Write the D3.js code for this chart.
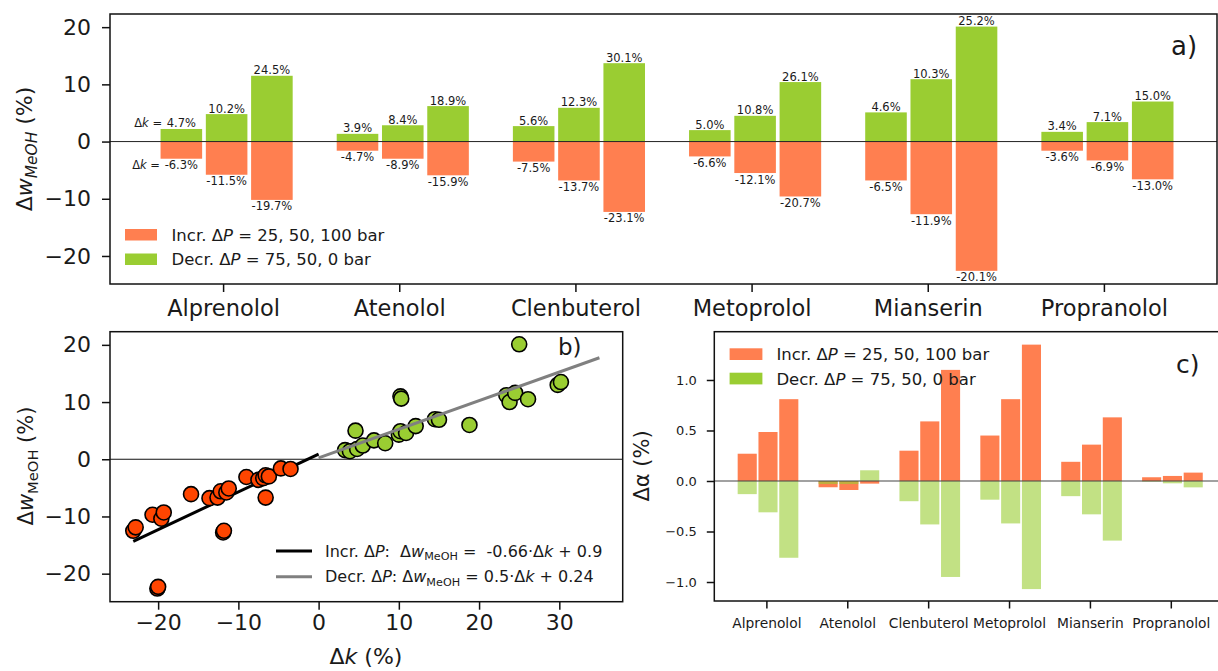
<!DOCTYPE html>
<html>
<head>
<meta charset="utf-8">
<script src="https://cdn.jsdelivr.net/npm/d3@7"></script>
<style>
  body { margin: 0; background: #fff; }
  svg text { font-family: "DejaVu Sans", sans-serif; fill: #1a1a1a; white-space: pre; }
</style>
</head>
<body>
<svg id="chart" width="1218" height="671"></svg>
<script>
// ---- data ----
const drugs = ['Alprenolol', 'Atenolol', 'Clenbuterol', 'Metoprolol', 'Mianserin', 'Propranolol'];

// panel a: change in MeOH fraction (%) for the three pressure steps
const incrW = [[-3.0, -5.8, -10.2], [-1.6, -3.0, -5.9], [-3.5, -6.8, -12.3], [-2.6, -5.5, -9.6], [-6.8, -12.7, -22.6], [-1.6, -3.3, -6.6]];
const decrW = [[2.2, 4.8, 11.5], [1.35, 2.85, 6.2], [2.7, 5.9, 13.7], [2.0, 4.5, 10.4], [5.1, 10.9, 20.1], [1.7, 3.4, 7.0]];
// Δk labels printed on the bars
const incrK = [[-6.3, -11.5, -19.7], [-4.7, -8.9, -15.9], [-7.5, -13.7, -23.1], [-6.6, -12.1, -20.7], [-6.5, -11.9, -20.1], [-3.6, -6.9, -13.0]];
const decrK = [[4.7, 10.2, 24.5], [3.9, 8.4, 18.9], [5.6, 12.3, 30.1], [5.0, 10.8, 26.1], [4.6, 10.3, 25.2], [3.4, 7.1, 15.0]];

// panel b: scatter points (Δk, Δw)
const scIncrK = [-23.1, -22.8, -20.7, -19.6, -19.3, -20.1, -20.0, -15.9, -13.6, -12.6, -12.2, -11.5, -11.2, -11.9, -11.8, -9.0, -7.5, -6.9, -6.6, -6.2, -6.6, -4.7, -3.5];
const scIncrW = [-12.5, -11.9, -9.7, -10.4, -9.3, -22.6, -22.3, -6.1, -6.8, -6.7, -5.6, -5.8, -5.1, -12.8, -12.5, -3.1, -3.6, -3.3, -2.8, -3.0, -6.7, -1.6, -1.7];
const scDecrK = [25.0, 10.2, 10.3, 4.6, 3.3, 3.9, 4.8, 5.5, 6.9, 8.3, 10.0, 10.2, 10.9, 12.1, 14.5, 15.0, 18.8, 23.4, 23.8, 24.5, 26.1, 29.8, 30.2];
const scDecrW = [20.1, 11.0, 10.6, 5.0, 1.6, 1.4, 1.8, 2.4, 3.3, 2.8, 4.3, 4.9, 4.6, 5.8, 7.0, 6.9, 6.0, 11.2, 10.0, 11.6, 10.5, 13.0, 13.5];
// fitted lines (end points)
const fitIncrK = [-23.1, 0];
const fitIncrW = [-14.35, 0.9];
const fitDecrK = [0, 35];
const fitDecrW = [0.24, 17.74];

// panel c: change in selectivity (%)
const incrA = [[0.27, 0.485, 0.81], [-0.062, -0.089, -0.026], [0.30, 0.59, 1.10], [0.45, 0.81, 1.35], [0.19, 0.36, 0.63], [0.037, 0.05, 0.083]];
const decrA = [[-0.13, -0.31, -0.76], [-0.03, -0.03, 0.106], [-0.20, -0.43, -0.95], [-0.185, -0.42, -1.07], [-0.15, -0.33, -0.59], [-0.006, -0.023, -0.063]];

const wTicks = [-20, -10, 0, 10, 20];
const kTicks = [-20, -10, 0, 10, 20, 30];
const aTicks = [-1.0, -0.5, 0.0, 0.5, 1.0];

const ORANGE = '#ff7f50', GREEN = '#9acd32', RED = '#ff4500';

const svg = d3.select('#chart');
const barStep = 0.257, barW = 0.236, barShift = 0.02;

function frame(x0, x1, y0, y1) {
  svg.append('rect').attr('x', x0).attr('y', y0).attr('width', x1 - x0).attr('height', y1 - y0)
    .attr('fill', 'none').attr('stroke', '#111').attr('stroke-width', 1.5);
}

function styleAxis(g, size) {
  g.select('.domain').remove();
  g.selectAll('.tick line').attr('stroke', '#111').attr('stroke-width', 1.5);
  g.selectAll('.tick text').attr('font-size', size).attr('fill', '#1a1a1a')
    .attr('font-family', '"DejaVu Sans", sans-serif');
}

// math-ish label: parts = [[text, italic, sub]]
function richText(sel, parts, size) {
  let sub = false;
  parts.forEach(p => {
    const t = sel.append('tspan').text(p[0]);
    if (p[1]) t.attr('font-style', 'italic');
    if (p[2] && !sub) { t.attr('font-size', size * 0.7).attr('dy', size * 0.22); sub = true; }
    else if (p[2]) t.attr('font-size', size * 0.7);
    else if (sub) { t.attr('dy', -size * 0.22); sub = false; }
  });
  return sel;
}

// ================= panel a =================
const ax = d3.scaleLinear().domain([-0.642, 5.642]).range([110, 1217]);
const ay = d3.scaleLinear().domain([-24.9, 22.3]).range([284, 14]);

const ga = svg.append('g');
drugs.forEach((d, i) => {
  [0, 1, 2].forEach(j => {
    const c = i + (j - 1) * barStep + barShift;
    const xl = ax(c - barW / 2), wpx = ax(c + barW / 2) - ax(c - barW / 2);
    ga.append('rect').attr('x', xl).attr('width', wpx)
      .attr('y', ay(decrW[i][j])).attr('height', ay(0) - ay(decrW[i][j])).attr('fill', GREEN);
    ga.append('rect').attr('x', xl).attr('width', wpx)
      .attr('y', ay(0)).attr('height', ay(incrW[i][j]) - ay(0)).attr('fill', ORANGE);

    const top = ga.append('text').attr('x', ax(c)).attr('y', ay(decrW[i][j]) - 1.5)
      .attr('text-anchor', 'middle').attr('font-size', 11.5).text(decrK[i][j].toFixed(1) + '%');
    const bot = ga.append('text').attr('x', ax(c)).attr('y', ay(incrW[i][j]) + 10.5)
      .attr('text-anchor', 'middle').attr('font-size', 11.5).text(incrK[i][j].toFixed(1) + '%');
    if (i === 0 && j === 0) {
      [[top, ay(decrW[i][j]) - 1.5], [bot, ay(incrW[i][j]) + 10.5]].forEach(([t, y]) => {
        const len = t.node().getComputedTextLength();
        richText(ga.append('text').attr('x', ax(c) - len / 2 - 1).attr('y', y)
          .attr('text-anchor', 'end').attr('font-size', 11.5), [['Δ'], ['k', true], [' = ']], 11.5);
      });
    }
  });
});
ga.append('line').attr('x1', 110).attr('x2', 1217).attr('y1', ay(0)).attr('y2', ay(0))
  .attr('stroke', '#222').attr('stroke-width', 1);

frame(110, 1217, 14, 284);
styleAxis(svg.append('g').attr('transform', 'translate(110,0)')
  .call(d3.axisLeft(ay).tickValues(wTicks).tickSize(8).tickPadding(11)), 22);
styleAxis(svg.append('g').attr('transform', 'translate(0,284)')
  .call(d3.axisBottom(ax).tickValues(d3.range(drugs.length)).tickFormat(i => drugs[i]).tickSize(8).tickPadding(8)), 22.5);

richText(svg.append('text').attr('transform', 'translate(32,149) rotate(-90)')
  .attr('text-anchor', 'middle').attr('font-size', 22),
  [['Δ'], ['w', true], ['MeOH', true, true], [' (%)']], 22);

svg.append('text').attr('x', 1171).attr('y', 55).attr('font-size', 26).text('a)');

// legend a
[[ORANGE, ['Incr. Δ', 'P', ' = 25, 50, 100 bar']], [GREEN, ['Decr. Δ', 'P', ' = 75, 50, 0 bar']]].forEach((e, k) => {
  const y = 229 + k * 24.5;
  svg.append('rect').attr('x', 125).attr('y', y).attr('width', 32).attr('height', 11.5).attr('fill', e[0]);
  richText(svg.append('text').attr('x', 171.5).attr('y', y + 11.8).attr('font-size', 16.5),
    [[e[1][0]], [e[1][1], true], [e[1][2]]], 16.5);
});

// ================= panel b =================
const bx = d3.scaleLinear().domain([-26.0, 37.9]).range([110, 622.7]);
const by = d3.scaleLinear().domain([-24.9, 22.3]).range([601.7, 331.7]);

svg.append('line').attr('x1', 110).attr('x2', 622.7).attr('y1', by(0)).attr('y2', by(0))
  .attr('stroke', '#111').attr('stroke-width', 1.2);

const line = d3.line().x(d => bx(d[0])).y(d => by(d[1]));
svg.append('path').attr('d', line(d3.zip(fitIncrK, fitIncrW))).attr('stroke', '#000').attr('stroke-width', 3).attr('fill', 'none');

const pts = svg.append('g');
pts.selectAll('.inc').data(d3.zip(scIncrK, scIncrW)).join('circle')
  .attr('cx', d => bx(d[0])).attr('cy', d => by(d[1])).attr('r', 7.5)
  .attr('fill', RED).attr('stroke', '#000').attr('stroke-width', 1.6);
pts.selectAll('.dec').data(d3.zip(scDecrK, scDecrW)).join('circle')
  .attr('cx', d => bx(d[0])).attr('cy', d => by(d[1])).attr('r', 7.5)
  .attr('fill', GREEN).attr('stroke', '#000').attr('stroke-width', 1.6);

svg.append('path').attr('d', line(d3.zip(fitDecrK, fitDecrW))).attr('stroke', '#808080').attr('stroke-width', 3).attr('fill', 'none');

frame(110, 622.7, 331.7, 601.7);
styleAxis(svg.append('g').attr('transform', 'translate(110,0)')
  .call(d3.axisLeft(by).tickValues(wTicks).tickSize(8).tickPadding(11)), 22);
styleAxis(svg.append('g').attr('transform', 'translate(0,601.7)')
  .call(d3.axisBottom(bx).tickValues(kTicks).tickSize(8).tickPadding(5)), 22);

richText(svg.append('text').attr('transform', 'translate(33,466) rotate(-90)')
  .attr('text-anchor', 'middle').attr('font-size', 21),
  [['Δ'], ['w', true], ['MeOH', false, true], [' (%)']], 21);
richText(svg.append('text').attr('x', 366).attr('y', 664).attr('text-anchor', 'middle').attr('font-size', 22),
  [['Δ'], ['k', true], [' (%)']], 22);
svg.append('text').attr('x', 558).attr('y', 355).attr('font-size', 23).text('b)');

// legend b
[['#000', [['Incr. Δ'], ['P', true], [':  Δ'], ['w', true], ['MeOH', false, true], [' =  -0.66·Δ'], ['k', true], [' + 0.9']]],
 ['#808080', [['Decr. Δ'], ['P', true], [': Δ'], ['w', true], ['MeOH', false, true], [' = 0.5·Δ'], ['k', true], [' + 0.24']]]]
  .forEach((e, k) => {
    const y = 551 + k * 25.7;
    svg.append('line').attr('x1', 276).attr('x2', 312).attr('y1', y).attr('y2', y)
      .attr('stroke', e[0]).attr('stroke-width', 3);
    richText(svg.append('text').attr('x', 325).attr('y', y + 5.5).attr('font-size', 16), e[1], 16);
  });

// ================= panel c =================
const cx = d3.scaleLinear().domain([-0.644, 5.644]).range([714.3, 1222.9]);
const cy = d3.scaleLinear().domain([-1.188, 1.478]).range([601, 331.7]);

const gc = svg.append('g');
drugs.forEach((d, i) => {
  [0, 1, 2].forEach(j => {
    const c = i + (j - 1) * barStep + barShift;
    const xl = cx(c - barW / 2), wpx = cx(c + barW / 2) - cx(c - barW / 2);
    const a = incrA[i][j], b = decrA[i][j];
    gc.append('rect').attr('x', xl).attr('width', wpx)
      .attr('y', cy(Math.max(a, 0))).attr('height', Math.abs(cy(a) - cy(0))).attr('fill', ORANGE);
    gc.append('rect').attr('x', xl).attr('width', wpx)
      .attr('y', cy(Math.max(b, 0))).attr('height', Math.abs(cy(b) - cy(0))).attr('fill', GREEN).attr('opacity', 0.6);
  });
});
gc.append('line').attr('x1', 714.3).attr('x2', 1222.9).attr('y1', cy(0)).attr('y2', cy(0))
  .attr('stroke', '#444').attr('stroke-width', 1.2);

frame(714.3, 1222.9, 331.7, 601);
styleAxis(svg.append('g').attr('transform', 'translate(714.3,0)')
  .call(d3.axisLeft(cy).tickValues(aTicks).tickFormat(d3.format('.1f')).tickSize(7.5).tickPadding(10)), 13);
styleAxis(svg.append('g').attr('transform', 'translate(0,601)')
  .call(d3.axisBottom(cx).tickValues(d3.range(drugs.length)).tickFormat(i => drugs[i]).tickSize(7.5).tickPadding(10)), 13.8);

svg.append('text').attr('transform', 'translate(649,466) rotate(-90)')
  .attr('text-anchor', 'middle').attr('font-size', 21).text('Δα (%)');
svg.append('text').attr('x', 1176).attr('y', 373).attr('font-size', 25).text('c)');

// legend c
[[ORANGE, ['Incr. Δ', 'P', ' = 25, 50, 100 bar']], [GREEN, ['Decr. Δ', 'P', ' = 75, 50, 0 bar']]].forEach((e, k) => {
  const y = 348.3 + k * 24.4;
  svg.append('rect').attr('x', 729.6).attr('y', y).attr('width', 32.8).attr('height', 11.7).attr('fill', e[0]);
  richText(svg.append('text').attr('x', 776.4).attr('y', y + 11.8).attr('font-size', 16.5),
    [[e[1][0]], [e[1][1], true], [e[1][2]]], 16.5);
});
</script>
</body>
</html>
